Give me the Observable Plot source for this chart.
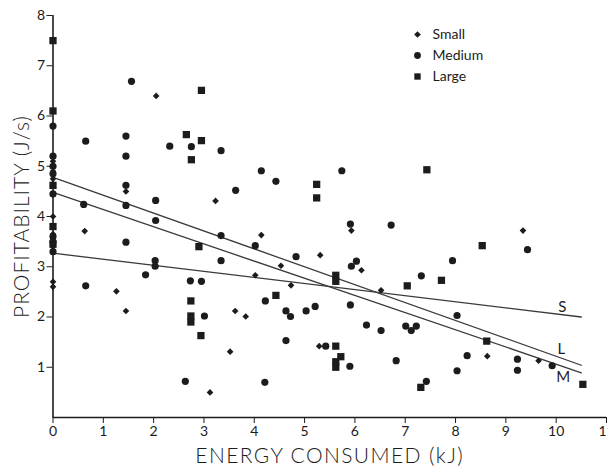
<!DOCTYPE html>
<html>
<head>
<meta charset="utf-8">
<script src="https://cdn.jsdelivr.net/npm/d3@7"></script>
<script src="https://cdn.jsdelivr.net/npm/@observablehq/plot@0.6"></script>
<style>
  html, body { margin: 0; padding: 0; background: white; }
</style>
</head>
<body>
<div id="chart"></div>
<script>
// ---- data ----
const xTicks = [0, 1, 2, 3, 4, 5, 6, 7, 8, 9, 10, 11];
const yTicks = [1, 2, 3, 4, 5, 6, 7, 8];
const xTitle = "ENERGY CONSUMED (kJ)";
const yTitle = "PROFITABILITY (J/s)";
const legendLabels = ["Small", "Medium", "Large"];
const legendSymbols = ["diamond2", "circle", "square"];

const smallX = [0, 0, 0, 0, 0, 0, 0, 0, 0.63, 1.45, 1.45, 1.26, 2.05, 3.23, 3.62, 3.83, 3.52, 3.12, 4.14, 4.53, 4.02, 4.73, 5.31, 5.93, 6.13, 6.52, 5.29, 8.63, 9.34, 9.65];
const smallY = [5.1, 4.9, 4.75, 4.0, 3.65, 3.4, 2.7, 2.6, 3.71, 4.50, 2.12, 2.51, 6.40, 4.31, 2.12, 2.01, 1.31, 0.50, 3.63, 3.02, 2.83, 2.63, 3.23, 3.72, 2.93, 2.53, 1.42, 1.22, 3.72, 1.13];

const mediumX = [0, 0, 0, 0, 0, 0, 0, 0, 0.65, 0.61, 0.65, 1.56, 1.45, 1.45, 1.45, 1.45, 1.45, 2.32, 2.75, 3.34, 2.04, 2.04, 3.63, 3.34, 3.34, 2.03, 2.03, 1.84, 2.73, 2.95, 3.01, 2.63, 4.14, 4.43, 5.74, 5.91, 6.72, 4.02, 4.83, 6.03, 5.93, 7.32, 4.22, 4.63, 4.72, 5.03, 5.21, 5.91, 6.23, 6.52, 7.01, 7.12, 7.22, 4.63, 5.42, 5.90, 6.82, 4.21, 7.42, 9.43, 7.94, 8.03, 8.23, 9.23, 9.23, 9.92, 8.03];
const mediumY = [5.8, 5.2, 5.0, 4.85, 4.45, 3.6, 3.5, 3.3, 5.50, 4.24, 2.62, 6.69, 5.60, 5.20, 4.62, 4.22, 3.49, 5.40, 5.39, 5.31, 4.32, 3.92, 4.52, 3.62, 3.12, 3.12, 3.01, 2.84, 2.72, 2.71, 2.02, 0.72, 4.91, 4.70, 4.91, 3.85, 3.83, 3.42, 3.20, 3.11, 3.01, 2.82, 2.32, 2.12, 2.01, 2.12, 2.21, 2.24, 1.84, 1.73, 1.82, 1.73, 1.82, 1.53, 1.42, 1.02, 1.13, 0.70, 0.72, 3.34, 3.12, 2.03, 1.23, 1.16, 0.94, 1.03, 0.93];

const largeX = [0, 0, 0, 0, 0, 2.95, 2.65, 2.95, 2.75, 2.90, 2.74, 2.74, 2.74, 2.94, 7.43, 5.24, 5.24, 5.62, 5.62, 7.04, 4.43, 5.62, 5.72, 5.62, 5.62, 7.31, 8.53, 7.72, 8.62, 10.53];
const largeY = [7.5, 6.1, 4.62, 3.8, 3.45, 6.51, 5.63, 5.51, 5.13, 3.40, 2.32, 2.02, 1.90, 1.63, 4.93, 4.64, 4.37, 2.83, 2.71, 2.62, 2.43, 1.42, 1.21, 1.11, 1.00, 0.60, 3.42, 2.73, 1.52, 0.66];

// regression lines (endpoints)
const fitX = [0, 10.5];
const fitS = [3.27, 2.0];
const fitL = [4.78, 1.04];
const fitM = [4.48, 0.89];
const fitNames = ["S", "L", "M"];

// ---- build tables ----
const toPts = (xs, ys) => xs.map((x, i) => ({x, y: ys[i]}));
const small = toPts(smallX, smallY);
const medium = toPts(mediumX, mediumY);
const large = toPts(largeX, largeY);
const fits = [fitS, fitL, fitM].map((ys, k) => ({name: fitNames[k], pts: toPts(fitX, ys)}));

const font = "Lato, 'Open Sans', sans-serif";
const ink = "#1c1c1c";
const labelOffsets = {S: [-19, -10], L: [-20, -16], M: [-18, 4]};

const marks = [
  Plot.ruleX([0], {stroke: ink, strokeWidth: 1.6}),
  Plot.ruleY([0], {stroke: ink, strokeWidth: 1.6}),
];
for (const f of fits) {
  marks.push(Plot.line(f.pts, {x: "x", y: "y", stroke: "#3a3a3a", strokeWidth: 1.3}));
  const end = f.pts[f.pts.length - 1];
  const [dx, dy] = labelOffsets[f.name];
  marks.push(Plot.text([end], {x: "x", y: "y", text: () => f.name, dx, dy, fontSize: 15, fill: ink, fontFamily: font}));
}
marks.push(
  Plot.dot(small, {x: "x", y: "y", symbol: "diamond2", r: 3.0, fill: ink, stroke: "none"}),
  Plot.dot(medium, {x: "x", y: "y", symbol: "circle", r: 3.6, fill: ink, stroke: "none"}),
  Plot.dot(large, {x: "x", y: "y", symbol: "square", r: 4.1, fill: ink, stroke: "none"})
);
// legend (inside the frame, top right)
legendLabels.forEach((lab, i) => {
  marks.push(Plot.dot([lab], {frameAnchor: "top-left", dx: 364.5, dy: 19 + i * 21, symbol: legendSymbols[i], r: i === 0 ? 3.0 : i === 1 ? 3.4 : 3.6, fill: ink, stroke: "none"}));
  marks.push(Plot.text([lab], {frameAnchor: "top-left", dx: 379.5, dy: 19 + i * 21, text: d => d, textAnchor: "start", lineAnchor: "middle", fontSize: 14, fill: ink, fontFamily: font}));
});
// axis titles
marks.push(
  Plot.text([xTitle], {frameAnchor: "bottom", dy: 39, text: d => d, textAnchor: "middle", lineAnchor: "middle", fontSize: 21, fontWeight: 300, fill: ink, fontFamily: font}),
  Plot.text([yTitle], {frameAnchor: "left", dx: -31, rotate: -90, text: d => d, textAnchor: "middle", lineAnchor: "middle", fontSize: 21, fontWeight: 300, fill: ink, fontFamily: font})
);

const chart = Plot.plot({
  width: 608,
  height: 469,
  marginLeft: 52.5,
  marginRight: 2,
  marginTop: 15,
  marginBottom: 52,
  style: {fontFamily: font, fontSize: "14px", color: ink, background: "white"},
  x: {domain: [0, 11], ticks: xTicks, tickSize: 6, tickPadding: 3, label: null},
  y: {domain: [0, 8], ticks: yTicks, tickSize: 6, tickPadding: 2, label: null},
  marks
});
document.getElementById("chart").appendChild(chart);
d3.select(chart).selectAll("text")
  .filter(function () { return this.textContent === xTitle; })
  .style("letter-spacing", "1.4px");
d3.select(chart).selectAll("text")
  .filter(function () { return this.textContent === yTitle; })
  .style("letter-spacing", "1px");
</script>
</body>
</html>
